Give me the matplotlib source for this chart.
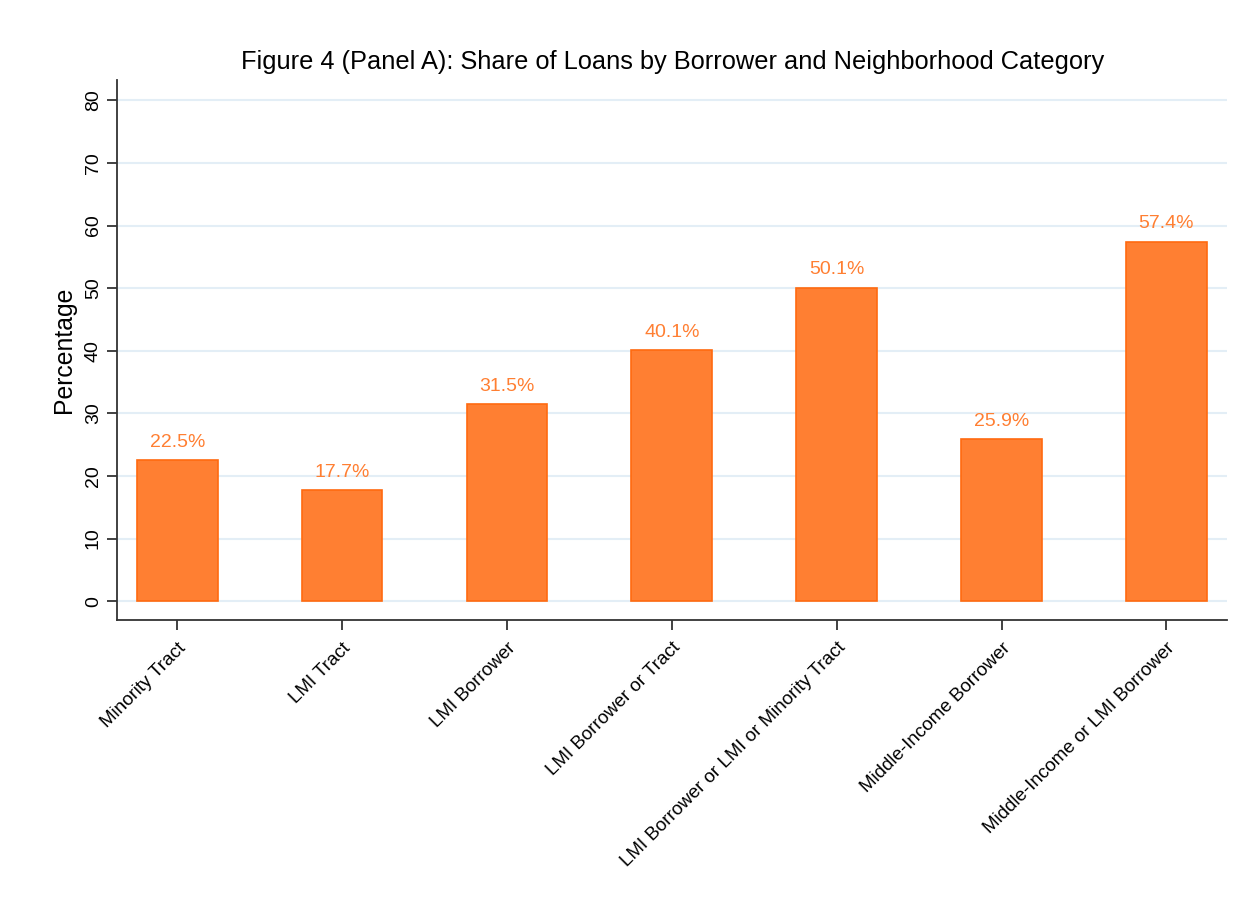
import numpy as np
import matplotlib.pyplot as plt

plt.rcParams['font.family'] = ['Liberation Sans', 'DejaVu Sans']

# Категорії та значення
categories = ['Minority Tract', 'LMI Tract', 'LMI Borrower', 'LMI Borrower or Tract',
              'LMI Borrower or LMI or Minority Tract', 'Middle-Income Borrower',
              'Middle-Income or LMI Borrower']
values = [22.5, 17.7, 31.5, 40.1, 50.1, 25.9, 57.4]
yticks = [0, 10, 20, 30, 40, 50, 60, 70, 80]

bar_color = '#FF7F32'
edge_color = '#FF6A10'

fig = plt.figure(figsize=(12.49, 9.13), dpi=100)
ax = fig.add_axes([0.0937, 0.321, 0.889, 0.591])

x = np.arange(len(categories))
ax.bar(x, values, width=0.49, color=bar_color, edgecolor=edge_color, linewidth=1.2, zorder=3)

# Підписи над стовпчиками
for xi, v in zip(x, values):
    ax.text(xi, v + 1.5, f'{v:.1f}%', ha='center', va='bottom', color=bar_color, fontsize=14)

ax.set_xlim(-0.365, 6.37)
ax.set_ylim(-3.0, 83.2)
ax.set_yticks(yticks)
ax.set_yticklabels([str(t) for t in yticks], rotation=90, va='center', fontsize=14)
ax.set_xticks(x)
ax.set_xticklabels(categories, rotation=45, ha='right', rotation_mode='anchor', fontsize=13.5)
ax.tick_params(axis='both', length=7, width=1.3, color='#333333')
ax.tick_params(axis='x', pad=7)
ax.tick_params(axis='y', pad=4)

ax.grid(axis='y', color='#E3EEF6', linewidth=1.5, zorder=0)
ax.set_axisbelow(True)
for s in ['top', 'right']:
    ax.spines[s].set_visible(False)
for s in ['left', 'bottom']:
    ax.spines[s].set_linewidth(1.3)
    ax.spines[s].set_color('#333333')

ax.set_ylabel('Percentage', fontsize=17.8, labelpad=6)
ax.set_title('Figure 4 (Panel A): Share of Loans by Borrower and Neighborhood Category',
             fontsize=18.3, pad=8)

fig.savefig('out.png', dpi=100, facecolor='white')
